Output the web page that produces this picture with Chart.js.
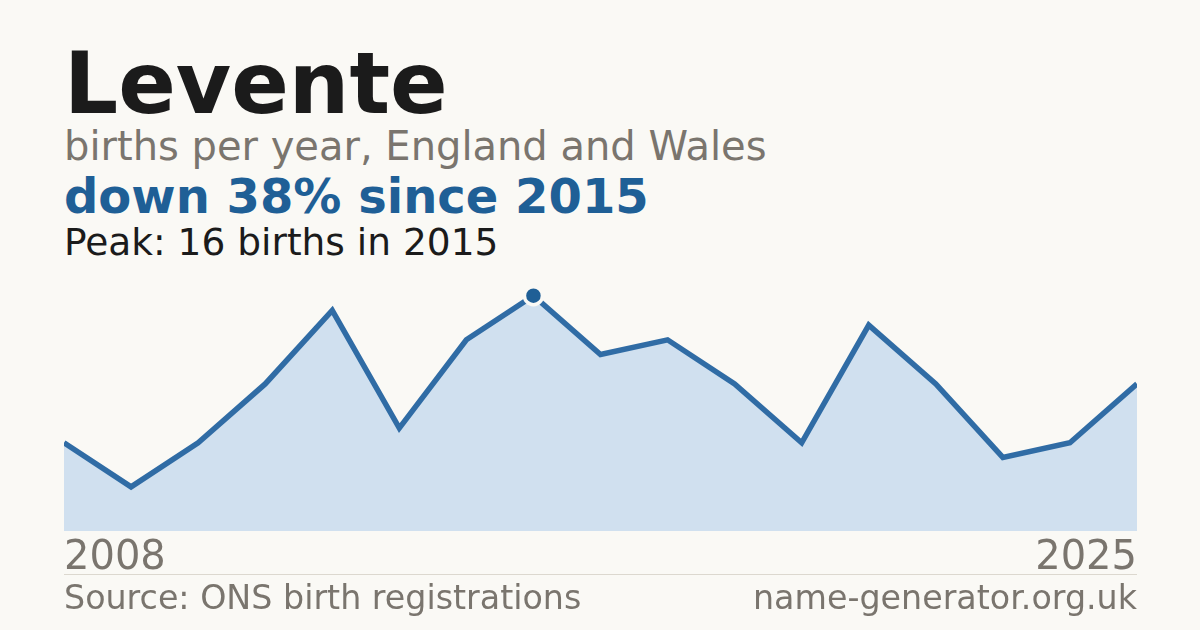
<!DOCTYPE html>
<html>
<head>
<meta charset="utf-8">
<script src="https://cdn.jsdelivr.net/npm/chart.js@4"></script>
<style>
  html, body { margin:0; padding:0; }
  body { width:1200px; height:630px; background:#faf9f5; position:relative; overflow:hidden; font-family:"DejaVu Sans", sans-serif; }
  .t { position:absolute; left:64px; white-space:nowrap; line-height:1; }
  #title { top:41px; font-size:85px; font-weight:bold; color:#1b1b1b; }
  #sub { top:126px; font-size:40px; color:#7a756e; }
  #hl { top:172px; font-size:48px; font-weight:bold; color:#1f5f96; }
  #peak { top:224px; font-size:37.5px; color:#1b1b1b; }
  #rule { position:absolute; left:64px; width:1073px; top:574px; height:0; border-top:1px solid #dcd8cf; }
  #src { top:581px; font-size:33.3px; color:#7a756e; }
  #site { top:581px; left:auto; right:63px; font-size:33.3px; color:#7a756e; }
  #wrap { position:absolute; left:64px; top:281px; width:1073px; height:298px; }
</style>
</head>
<body>
<div class="t" id="title">Levente</div>
<div class="t" id="sub">births per year, England and Wales</div>
<div class="t" id="hl">down 38% since 2015</div>
<div class="t" id="peak">Peak: 16 births in 2015</div>
<div id="wrap"><canvas id="c"></canvas></div>
<div id="rule"></div>
<div class="t" id="src">Source: ONS birth registrations</div>
<div class="t" id="site">name-generator.org.uk</div>
<script>
const years = ["2008","2009","2010","2011","2012","2013","2014","2015","2016","2017","2018","2019","2021","2022","2023","2024","2025"];
const births = [6, 3, 6, 10, 15, 7, 13, 16, 12, 13, 10, 6, 14, 10, 5, 6, 10];
const peakIndex = 7;

new Chart(document.getElementById('c'), {
  type: 'line',
  data: {
    labels: years,
    datasets: [{
      data: births,
      borderColor: '#306ca5',
      borderWidth: 5.5,
      backgroundColor: '#d0e0ef',
      fill: 'origin',
      tension: 0,
      pointRadius: ctx => ctx.dataIndex === peakIndex ? 9 : 0,
      pointHoverRadius: 0,
      pointBackgroundColor: '#1f5f96',
      pointBorderColor: '#faf9f5',
      pointBorderWidth: 3.5
    }]
  },
  options: {
    responsive: true,
    maintainAspectRatio: false,
    animation: false,
    layout: { padding: 0, autoPadding: false },
    plugins: { legend: { display: false }, tooltip: { enabled: false } },
    scales: {
      x: {
        offset: false,
        grid: { display: false },
        border: { display: false },
        ticks: {
          autoSkip: false,
          maxRotation: 0,
          align: 'inner',
          padding: 0,
          color: '#7a756e',
          font: { family: 'DejaVu Sans', size: 40, lineHeight: 1 },
          callback: function(v, i, arr) { return (i === 0 || i === arr.length - 1) ? this.getLabelForValue(v) : ''; }
        }
      },
      y: { display: false, min: 0, max: 17 }
    }
  }
});
</script>
</body>
</html>
